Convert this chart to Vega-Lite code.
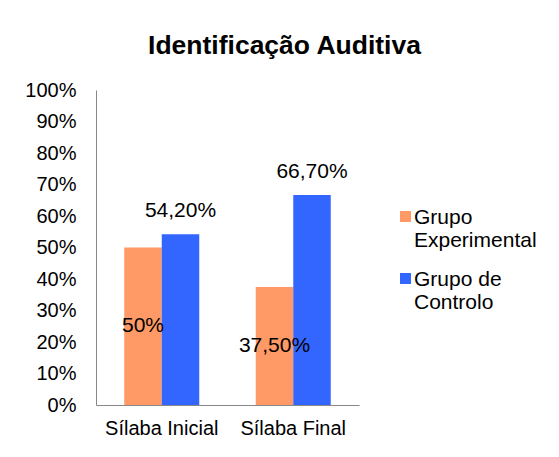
{
  "$schema": "https://vega.github.io/schema/vega-lite/v6.json",
  "width": 263,
  "height": 315,
  "autosize": {"type": "none"},
  "padding": {"left": 96, "top": 90, "right": 200, "bottom": 52},
  "background": "white",
  "config": {"view": {"stroke": null}},
  "title": {"text": "Identificação Auditiva", "font": "Liberation Sans", "fontSize": 26.5, "fontWeight": "bold", "anchor": "middle", "frame": "group", "dx": 57, "offset": 21, "color": "black"},
  "data": {"values": [
    {"silaba": "Sílaba Inicial", "grupo": "Grupo Experimental", "valor": 0.5, "rotulo": "50%"},
    {"silaba": "Sílaba Inicial", "grupo": "Grupo de Controlo", "valor": 0.542, "rotulo": "54,20%"},
    {"silaba": "Sílaba Final", "grupo": "Grupo Experimental", "valor": 0.375, "rotulo": "37,50%"},
    {"silaba": "Sílaba Final", "grupo": "Grupo de Controlo", "valor": 0.667, "rotulo": "66,70%"}
  ]},
  "encoding": {
    "x": {"field": "silaba", "type": "nominal", "sort": ["Sílaba Inicial", "Sílaba Final"],
      "scale": {"paddingInner": 0, "paddingOuter": 0},
      "axis": {"title": null, "labelAngle": 0, "ticks": false, "labelPadding": 13, "domainColor": "#888888", "labelFontSize": 20, "labelFont": "Liberation Sans", "labelColor": "black"}},
    "xOffset": {"field": "grupo", "type": "nominal", "sort": ["Grupo Experimental", "Grupo de Controlo"],
      "scale": {"paddingInner": 0, "paddingOuter": 0.753}}
  },
  "layer": [
    {
      "mark": {"type": "bar"},
      "encoding": {
        "y": {"field": "valor", "type": "quantitative", "scale": {"domain": [0, 1]},
          "axis": {"title": null, "format": ".0%", "values": [0, 0.1, 0.2, 0.3, 0.4, 0.5, 0.6, 0.7, 0.8, 0.9, 1], "grid": false, "ticks": false, "labelPadding": 20, "labelFlush": false, "domainColor": "#888888", "labelFontSize": 20, "labelFont": "Liberation Sans", "labelColor": "black"}},
        "color": {"field": "grupo", "type": "nominal", "sort": ["Grupo Experimental", "Grupo de Controlo"],
          "scale": {"domain": ["Grupo Experimental", "Grupo de Controlo"], "range": ["#FF9966", "#3366FF"]},
          "legend": {"title": null, "orient": "none", "legendX": 299, "legendY": 123, "padding": 0,
            "symbolType": "M-1,-2.27H1V-0.27H-1Z", "symbolSize": 121, "symbolStrokeWidth": 0,
            "labelExpr": "datum.label == 'Grupo Experimental' ? ['Grupo', 'Experimental'] : ['Grupo de', 'Controlo']",
            "labelBaseline": "alphabetic", "labelFontSize": 21, "labelFont": "Liberation Sans", "labelColor": "black", "labelLimit": 300, "labelOffset": -2, "rowPadding": 17}}
      }
    },
    {
      "transform": [{"filter": "datum.grupo == 'Grupo Experimental'"}],
      "mark": {"type": "text", "font": "Liberation Sans", "fontSize": 21, "color": "black", "baseline": "middle"},
      "encoding": {
        "y": {"field": "valor", "type": "quantitative", "scale": {"domain": [0, 2]}, "axis": null},
        "text": {"field": "rotulo"}
      }
    },
    {
      "transform": [{"filter": "datum.grupo == 'Grupo de Controlo'"}],
      "mark": {"type": "text", "font": "Liberation Sans", "fontSize": 21, "color": "black", "baseline": "middle", "dy": -23},
      "encoding": {
        "y": {"field": "valor", "type": "quantitative", "scale": {"domain": [0, 1]}, "axis": null},
        "text": {"field": "rotulo"}
      }
    }
  ],
  "resolve": {"scale": {"y": "independent"}}
}
